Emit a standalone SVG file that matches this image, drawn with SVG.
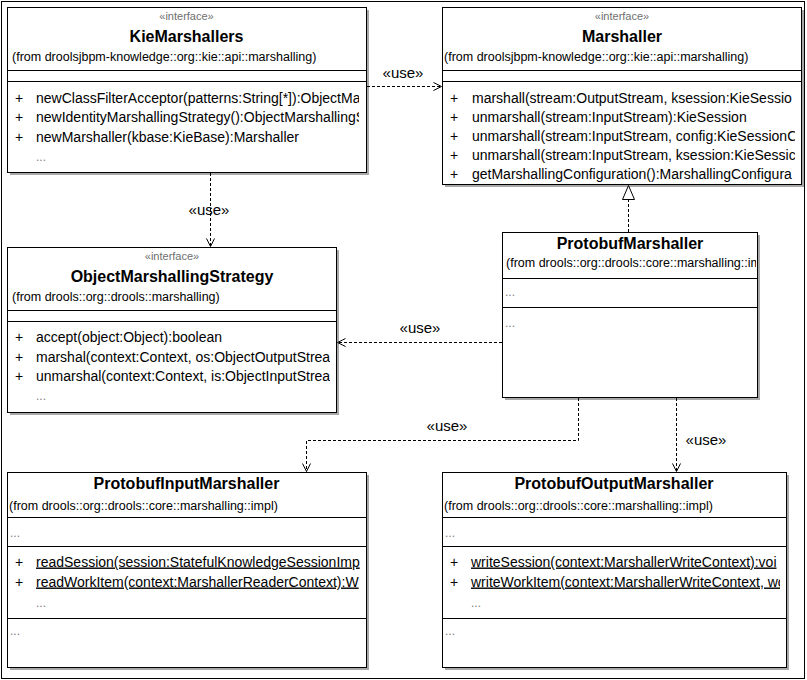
<svg xmlns="http://www.w3.org/2000/svg" width="807" height="680" viewBox="0 0 807 680">
<style>
text{font-family:"Liberation Sans",Arial,sans-serif;fill:#000}
.box{fill:#fff;stroke:#000;stroke-width:1}
.sh{fill:#a8a8a8}
.sep{stroke:#000;stroke-width:1}
.st{font-size:11px;fill:#6e6e6e;text-anchor:middle}
.ti{font-size:16px;font-weight:bold;text-anchor:middle}
.fr{font-size:12.5px}
.m{font-size:14px}
.u{text-decoration:underline}
.dots{font-size:12px;fill:#808080}
.lbl{font-size:15px;text-anchor:middle}
.dash{fill:none;stroke:#000;stroke-width:1;stroke-dasharray:3,2}
</style>
<defs>
<marker id="open" viewBox="-10 -6 12 12" refX="0" refY="0" markerWidth="12" markerHeight="12" markerUnits="userSpaceOnUse" orient="auto">
<path d="M-8,-4 L0,0 L-8,4" fill="none" stroke="#000" stroke-width="1" stroke-dasharray="none"/>
</marker>
<clipPath id="cKie"><rect x="7" y="7" width="352" height="165"/></clipPath>
<clipPath id="cMar"><rect x="442" y="7" width="353" height="178"/></clipPath>
<clipPath id="cOms"><rect x="7" y="247" width="323" height="165"/></clipPath>
<clipPath id="cPm"><rect x="502" y="232" width="254" height="165"/></clipPath>
<clipPath id="cIn"><rect x="7" y="472" width="353" height="195"/></clipPath>
<clipPath id="cOut"><rect x="442" y="472" width="338" height="195"/></clipPath>
</defs>
<rect x="1.5" y="1.5" width="803" height="677" fill="#fff" stroke="#000" stroke-width="1"/>

<g id="KieMarshallers">
<rect class="sh" x="10" y="10" width="359" height="165"/>
<rect class="box" x="7.5" y="7.5" width="359" height="165"/>
<line class="sep" x1="7.5" y1="70.5" x2="366.5" y2="70.5"/>
<line class="sep" x1="7.5" y1="81.5" x2="366.5" y2="81.5"/>
<g clip-path="url(#cKie)">
<text class="st" x="186.5" y="20">«interface»</text>
<text class="ti" x="186.5" y="42">KieMarshallers</text>
<text class="fr" x="12" y="61">(from droolsjbpm-knowledge::org::kie::api::marshalling)</text>
<text class="m" x="15" y="102.5">+</text><text class="m" x="36" y="102.5">newClassFilterAcceptor(patterns:String[*]):ObjectMa</text>
<text class="m" x="15" y="122">+</text><text class="m" x="36" y="122">newIdentityMarshallingStrategy():ObjectMarshallingS</text>
<text class="m" x="15" y="141.5">+</text><text class="m" x="36" y="141.5">newMarshaller(kbase:KieBase):Marshaller</text>
<text class="dots" x="36" y="160.5">...</text>
</g>
</g>

<g id="Marshaller">
<rect class="sh" x="445" y="10" width="359" height="177"/>
<rect class="box" x="442.5" y="7.5" width="359" height="177"/>
<line class="sep" x1="442.5" y1="70.5" x2="801.5" y2="70.5"/>
<line class="sep" x1="442.5" y1="81.5" x2="801.5" y2="81.5"/>
<g clip-path="url(#cMar)">
<text class="st" x="622" y="20">«interface»</text>
<text class="ti" x="622" y="42">Marshaller</text>
<text class="fr" x="444" y="61">(from droolsjbpm-knowledge::org::kie::api::marshalling)</text>
<text class="m" x="450" y="102.5">+</text><text class="m" x="472" y="102.5">marshall(stream:OutputStream, ksession:KieSessio</text>
<text class="m" x="450" y="121.7">+</text><text class="m" x="472" y="121.7">unmarshall(stream:InputStream):KieSession</text>
<text class="m" x="450" y="140.9">+</text><text class="m" x="472" y="140.9">unmarshall(stream:InputStream, config:KieSessionC</text>
<text class="m" x="450" y="160.1">+</text><text class="m" x="472" y="160.1">unmarshall(stream:InputStream, ksession:KieSessic</text>
<text class="m" x="450" y="179.3">+</text><text class="m" x="472" y="179.3">getMarshallingConfiguration():MarshallingConfigura</text>
</g>
</g>

<g id="ObjectMarshallingStrategy">
<rect class="sh" x="10" y="250" width="329" height="165"/>
<rect class="box" x="7.5" y="247.5" width="329" height="165"/>
<line class="sep" x1="7.5" y1="310.5" x2="336.5" y2="310.5"/>
<line class="sep" x1="7.5" y1="321.5" x2="336.5" y2="321.5"/>
<g clip-path="url(#cOms)">
<text class="st" x="172" y="260">«interface»</text>
<text class="ti" x="172" y="282">ObjectMarshallingStrategy</text>
<text class="fr" x="12" y="301">(from drools::org::drools::marshalling)</text>
<text class="m" x="15" y="342">+</text><text class="m" x="36" y="342">accept(object:Object):boolean</text>
<text class="m" x="15" y="361.5">+</text><text class="m" x="36" y="361.5">marshal(context:Context, os:ObjectOutputStrea</text>
<text class="m" x="15" y="381">+</text><text class="m" x="36" y="381">unmarshal(context:Context, is:ObjectInputStrea</text>
<text class="dots" x="36" y="400">...</text>
</g>
</g>

<g id="ProtobufMarshaller">
<rect class="sh" x="505" y="235" width="255" height="165"/>
<rect class="box" x="502.5" y="232.5" width="255" height="165"/>
<line class="sep" x1="502.5" y1="278.5" x2="757.5" y2="278.5"/>
<line class="sep" x1="502.5" y1="307.5" x2="757.5" y2="307.5"/>
<g clip-path="url(#cPm)">
<text class="ti" x="630" y="249">ProtobufMarshaller</text>
<text class="fr" x="506" y="267">(from drools::org::drools::core::marshalling::im</text>
<text class="dots" x="505" y="296">...</text>
<text class="dots" x="505" y="327">...</text>
</g>
</g>

<g id="ProtobufInputMarshaller">
<rect class="sh" x="10" y="475" width="359" height="195"/>
<rect class="box" x="7.5" y="472.5" width="359" height="195"/>
<line class="sep" x1="7.5" y1="517.5" x2="366.5" y2="517.5"/>
<line class="sep" x1="7.5" y1="546.5" x2="366.5" y2="546.5"/>
<line class="sep" x1="7.5" y1="618.5" x2="366.5" y2="618.5"/>
<g clip-path="url(#cIn)">
<text class="ti" x="186.5" y="489">ProtobufInputMarshaller</text>
<text class="fr" x="9" y="509.5">(from drools::org::drools::core::marshalling::impl)</text>
<text class="dots" x="10" y="537">...</text>
<text class="m" x="15" y="566.5">+</text><text class="m u" x="36" y="566.5">readSession(session:StatefulKnowledgeSessionImp</text>
<text class="m" x="15" y="586.5">+</text><text class="m u" x="36" y="586.5">readWorkItem(context:MarshallerReaderContext):W</text>
<text class="dots" x="36" y="607">...</text>
<text class="dots" x="10" y="635">...</text>
</g>
</g>

<g id="ProtobufOutputMarshaller">
<rect class="sh" x="445" y="475" width="344" height="195"/>
<rect class="box" x="442.5" y="472.5" width="344" height="195"/>
<line class="sep" x1="442.5" y1="517.5" x2="786.5" y2="517.5"/>
<line class="sep" x1="442.5" y1="546.5" x2="786.5" y2="546.5"/>
<line class="sep" x1="442.5" y1="618.5" x2="786.5" y2="618.5"/>
<g clip-path="url(#cOut)">
<text class="ti" x="614" y="489">ProtobufOutputMarshaller</text>
<text class="fr" x="444" y="509.5">(from drools::org::drools::core::marshalling::impl)</text>
<text class="dots" x="445" y="537">...</text>
<text class="m" x="450" y="566.5">+</text><text class="m u" x="471" y="566.5">writeSession(context:MarshallerWriteContext):voi</text>
<text class="m" x="450" y="586.5">+</text><text class="m u" x="471" y="586.5">writeWorkItem(context:MarshallerWriteContext, wo</text>
<text class="dots" x="471" y="607">...</text>
<text class="dots" x="445" y="635">...</text>
</g>
</g>

<g id="connectors">
<path class="dash" d="M367,86.5 L441.5,86.5" marker-end="url(#open)"/>
<text class="lbl" x="403" y="77.5">«use»</text>
<path class="dash" d="M210.5,173 L210.5,246.5" marker-end="url(#open)"/>
<text class="lbl" x="209" y="214.5">«use»</text>
<path class="dash" d="M502,342.5 L337.5,342.5" marker-end="url(#open)"/>
<text class="lbl" x="420" y="332.5">«use»</text>
<path class="dash" d="M578.5,398 L578.5,440.5 L306.5,440.5 L306.5,471.5" marker-end="url(#open)"/>
<text class="lbl" x="447" y="430.5">«use»</text>
<path class="dash" d="M676.5,398 L676.5,471.5" marker-end="url(#open)"/>
<text class="lbl" x="706" y="444.5">«use»</text>
<path class="dash" d="M628.5,232 L628.5,199"/>
<path d="M622.5,199.5 L628.5,185.5 L634.5,199.5 Z" fill="#fff" stroke="#000" stroke-width="1"/>
</g>
</svg>
